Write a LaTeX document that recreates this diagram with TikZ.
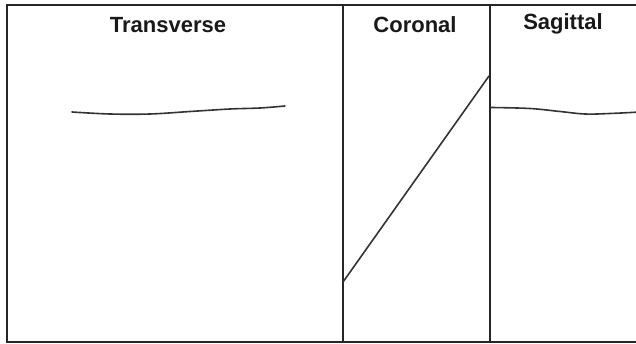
\documentclass[tikz,border=0pt]{standalone}
\usepackage{fontspec}
\setmainfont{Liberation Sans}
\usepackage{tikz}

\tikzset{
  frame/.style={line width=2.4pt, draw=black!85},
  trace/.style={line width=1.6pt, draw=black!80, line cap=round},
  paneltitle/.style={anchor=base, font=\bfseries\fontsize{22}{26}\selectfont, text=black!90}
}

\begin{document}
\begin{tikzpicture}[x=1pt, y=-1pt]
	\useasboundingbox (0,0) rectangle (636,344);
	\clip (0,0) rectangle (636,344);

	% Outer frame, open on the right where the figure is cut.
	\draw[frame] (640,5) -- (7,5) -- (7,342) -- (640,342);
	\draw[frame] (343,5) -- (343,342);
	\draw[frame] (490,5) -- (490,342);

	% Panel titles.
	\node[paneltitle] (trans) at (168,33) {Transverse};
	\node[paneltitle] (coro) at (415,33) {Coronal};
	\node[paneltitle] (sagi) at (563,30) {Sagittal};

	% Traced lines in each panel.
	\draw[trace] plot[smooth, tension=0.6] coordinates {
		(72,112) (110,114) (150,114) (190,111.5) (230,109) (260,108) (285,106)};
	\draw[trace] (343,282) -- (489,76);
	\draw[trace] plot[smooth, tension=0.6] coordinates {
		(491,107.5) (530,108.5) (560,111.5) (585,114) (610,113.5) (640,112)};
\end{tikzpicture}
\end{document}
